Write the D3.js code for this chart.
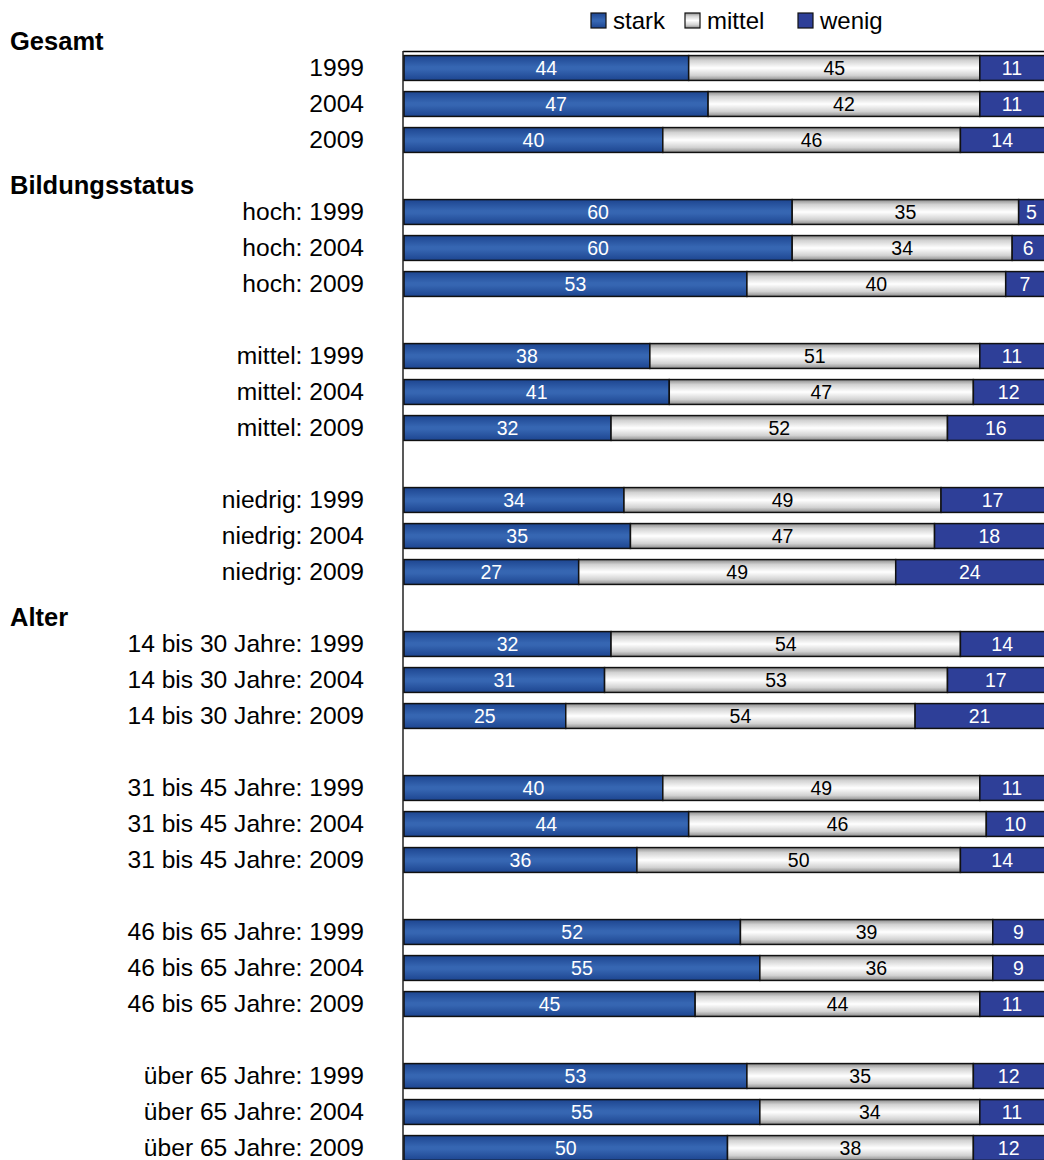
<!DOCTYPE html>
<meta charset="utf-8">
<script src="https://d3js.org/d3.v7.min.js"></script>
<style>
  body { margin: 0; background: #fff; }
  text { font-family: "Liberation Sans", Arial, sans-serif; }
</style>
<svg id="chart" width="1044" height="1160"></svg>
<script>
// row labels, "" = empty spacer row
const rows = [
  "1999", "2004", "2009", "",
  "hoch: 1999", "hoch: 2004", "hoch: 2009", "",
  "mittel: 1999", "mittel: 2004", "mittel: 2009", "",
  "niedrig: 1999", "niedrig: 2004", "niedrig: 2009", "",
  "14 bis 30 Jahre: 1999", "14 bis 30 Jahre: 2004", "14 bis 30 Jahre: 2009", "",
  "31 bis 45 Jahre: 1999", "31 bis 45 Jahre: 2004", "31 bis 45 Jahre: 2009", "",
  "46 bis 65 Jahre: 1999", "46 bis 65 Jahre: 2004", "46 bis 65 Jahre: 2009", "",
  "über 65 Jahre: 1999", "über 65 Jahre: 2004", "über 65 Jahre: 2009"
];
const stark  = [44, 47, 40, null, 60, 60, 53, null, 38, 41, 32, null, 34, 35, 27, null,
                32, 31, 25, null, 40, 44, 36, null, 52, 55, 45, null, 53, 55, 50];
const mittel = [45, 42, 46, null, 35, 34, 40, null, 51, 47, 52, null, 49, 47, 49, null,
                54, 53, 54, null, 49, 46, 50, null, 39, 36, 44, null, 35, 34, 38];
const wenig  = [11, 11, 14, null, 5, 6, 7, null, 11, 12, 16, null, 17, 18, 24, null,
                14, 17, 21, null, 11, 10, 14, null, 9, 9, 11, null, 12, 11, 12];
const series = ["stark", "mittel", "wenig"];
// group headings and the row slot they sit in (-1 = above the first row)
const headers = [["Gesamt", -1], ["Bildungsstatus", 3], ["Alter", 15]];

const svg = d3.select("#chart");
const W = 1044;

const x = d3.scaleLinear().domain([0, 100]).range([404, 1051]);
const y = d3.scaleBand().domain(d3.range(rows.length)).range([50, 50 + rows.length * 36]).paddingInner(0.31).paddingOuter(0.155);
const step = y.step();
const rowY = i => 50 + step * (i + 0.5);

// gradients
const defs = svg.append("defs");
const gStark = defs.append("linearGradient").attr("id", "gStark").attr("x1", 0).attr("x2", 0).attr("y1", 0).attr("y2", 1);
[[0, "#1d4590"], [0.45, "#3666b2"], [0.55, "#3666b2"], [1, "#1d4590"]].forEach(s =>
  gStark.append("stop").attr("offset", s[0]).attr("stop-color", s[1]));
const gMittel = defs.append("linearGradient").attr("id", "gMittel").attr("x1", 0).attr("x2", 0).attr("y1", 0).attr("y2", 1);
[[0, "#8a8a8a"], [0.2, "#d2d2d2"], [0.5, "#ffffff"], [0.8, "#d2d2d2"], [1, "#8a8a8a"]].forEach(s =>
  gMittel.append("stop").attr("offset", s[0]).attr("stop-color", s[1]));
const fills = { stark: "url(#gStark)", mittel: "url(#gMittel)", wenig: "#2e3f98" };
const textCol = { stark: "#fff", mittel: "#000", wenig: "#fff" };

// stacked data
const table = rows.map((r, i) => ({ label: r, i: i, stark: stark[i], mittel: mittel[i], wenig: wenig[i] }))
  .filter(d => d.stark != null);
const stacked = d3.stack().keys(series)(table);

// plot frame: top line and left axis
svg.append("line").attr("x1", 403).attr("x2", W).attr("y1", 51.5).attr("y2", 51.5)
  .attr("stroke", "#000").attr("stroke-width", 1.5);
svg.append("line").attr("x1", 403).attr("x2", 403).attr("y1", 51).attr("y2", 1160)
  .attr("stroke", "#222").attr("stroke-width", 1.5);

const layers = svg.append("g").selectAll("g").data(stacked).join("g")
  .attr("fill", d => fills[d.key]);

layers.selectAll("rect").data(d => d.map(v => Object.assign(v, { key: d.key }))).join("rect")
  .attr("x", d => x(d[0]))
  .attr("y", d => y(d.data.i))
  .attr("width", d => x(d[1]) - x(d[0]))
  .attr("height", y.bandwidth())
  .attr("stroke", "#111")
  .attr("stroke-width", 1.5);

// value labels centred in the visible part of each segment
layers.selectAll("text").data(d => d).join("text")
  .attr("x", d => (x(d[0]) + Math.min(x(d[1]), W)) / 2)
  .attr("y", d => y(d.data.i) + y.bandwidth() / 2 + 7)
  .attr("text-anchor", "middle")
  .attr("font-size", 19.5)
  .attr("fill", d => textCol[d.key])
  .text(d => d[1] - d[0]);

// row labels
svg.append("g").selectAll("text").data(table).join("text")
  .attr("x", 364)
  .attr("y", d => rowY(d.i) + 8)
  .attr("text-anchor", "end")
  .attr("font-size", 24.6)
  .attr("fill", "#000")
  .text(d => d.label);

// group headings
svg.append("g").selectAll("text").data(headers).join("text")
  .attr("x", 10)
  .attr("y", d => rowY(d[1]) + 18)
  .attr("font-size", 25.5)
  .attr("font-weight", "bold")
  .text(d => d[0]);

// legend
const legX = [591, 685, 798];
const leg = svg.append("g").selectAll("g").data(series).join("g")
  .attr("transform", (d, i) => `translate(${legX[i]},13)`);
leg.append("rect").attr("width", 15).attr("height", 15)
  .attr("fill", d => fills[d]).attr("stroke", "#111").attr("stroke-width", 1.2);
leg.append("text").attr("x", 22).attr("y", 16).attr("font-size", 24).text(d => d);
</script>
